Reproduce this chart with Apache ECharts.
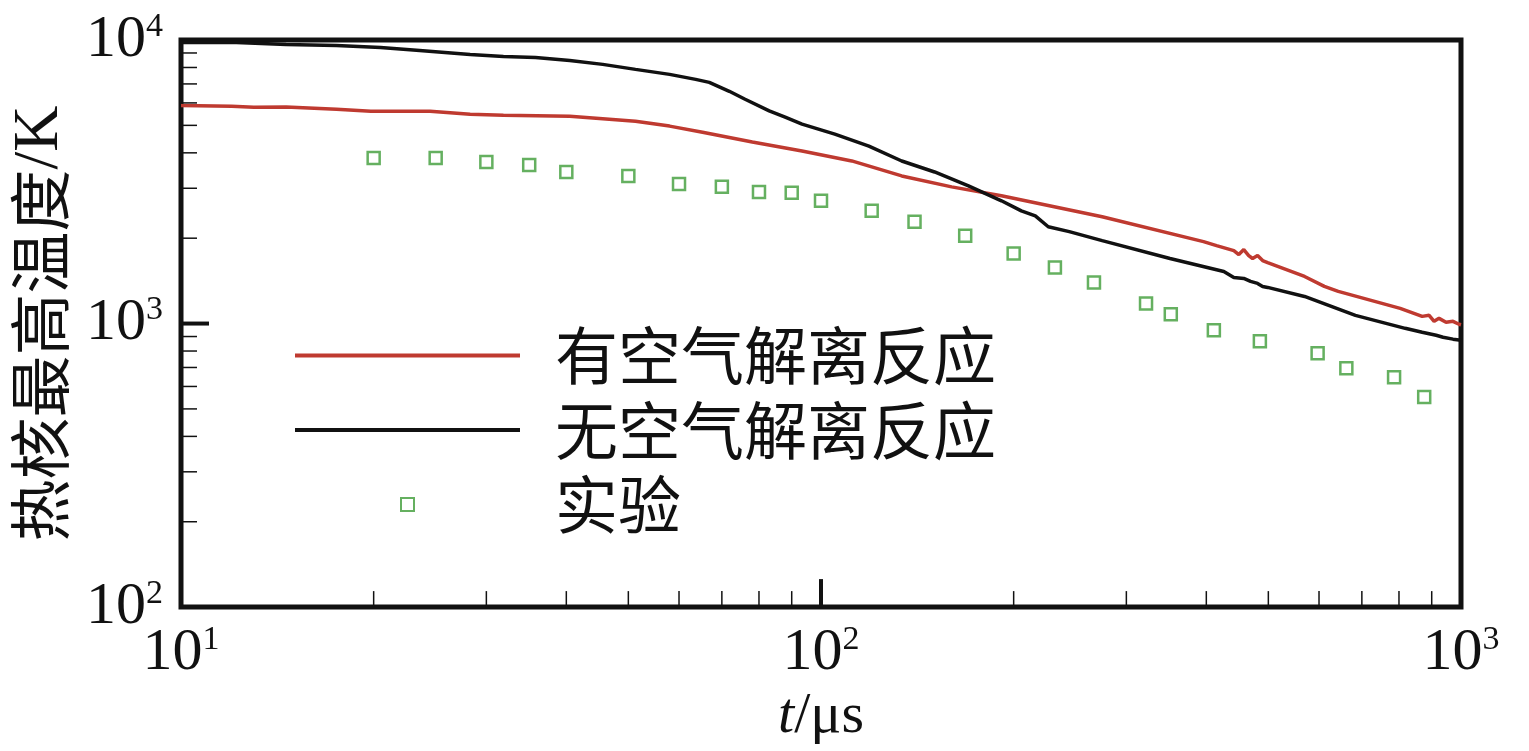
<!DOCTYPE html>
<html><head><meta charset="utf-8">
<script src="https://cdn.jsdelivr.net/npm/echarts@6/dist/echarts.min.js"></script>
<style>html,body{margin:0;padding:0;background:#fff}#c{width:1529px;height:751px}</style>
</head><body><div id="c"></div>
<script>
const seriesNames = ['有空气解离反应', '无空气解离反应', '实验'];
const withDissociation = [[10,5880],[12,5840],[13,5790],[14.6,5800],[17.5,5700],[19.8,5610],[22.2,5610],[24.5,5610],[28.3,5470],[31.9,5430],[40.5,5385],[51.3,5170],[58,4970],[65.3,4730],[78.1,4365],[93.4,4060],[111.7,3745],[133.7,3316],[160,3034],[191.4,2821],[275,2380],[396,1945],[415,1883],[441.6,1808],[449.6,1751],[457.7,1823],[465.9,1737],[472.5,1696],[481,1737],[489.8,1668],[498.7,1641],[569.6,1466],[611.6,1352],[643,1298],[803.5,1131],[869.6,1060],[891.7,1069],[907.8,1018],[924,1043],[947.6,1010],[971.6,1018],[992.8,994],[1000,990]];
const withoutDissociation = [[10,9800],[12.2,9800],[14.6,9643],[17.5,9565],[20.5,9412],[23.6,9186],[28.3,8893],[31.9,8751],[35.8,8681],[40.5,8472],[45.6,8204],[51.3,7877],[58,7565],[63.7,7265],[66.9,7090],[71.9,6594],[76.1,6181],[83,5623],[87.9,5341],[93.4,5048],[105.1,4656],[118.8,4227],[133.7,3744],[150.5,3424],[170,3058],[191.4,2710],[205.6,2498],[216.2,2399],[226.5,2195],[244.3,2109],[275,1960],[351,1696],[426,1526],[441.6,1454],[457.7,1442],[469,1408],[481,1385],[489.8,1352],[498.7,1341],[569.6,1246],[683.9,1069],[818,962],[869.6,932],[914.4,909],[937.5,895],[971.6,881],[1000,873]];
const experimentT = [20,25,30,35,40,50,60,70,80,90,100,120,140,168,200,232,267,322,352,411,485,597,662,786,876];
const experimentTemp = [3836,3836,3714,3624,3424,3316,3108,3034,2913,2890,2710,2498,2286,2041,1765,1576,1396,1178,1078,947,866,786,696,647,551];
const xTickValues = [10, 100, 1000];
const xTickExponents = ['1', '2', '3'];
const yTickValues = [100, 1000, 10000];
const yTickExponents = ['2', '3', '4'];
const xMinorTicks = [20,30,40,50,60,70,80,90,200,300,400,500,600,700,800,900];
const xMajorTicks = [100];
const yMinorTicks = [200,300,400,500,600,700,800,900,2000,3000,4000,5000,6000,7000,8000,9000];
const yMajorTicks = [1000];

const serif = 'Liberation Serif';
const cjk = 'Noto Sans CJK SC';
const redColor = '#bf3a30';
const blackColor = '#111';
const greenColor = '#3f9c38';
const labelRich = {
  b: {fontFamily: serif, fontSize: 60, lineHeight: 60, color: '#111'},
  s: {fontFamily: serif, fontSize: 34, lineHeight: 44, color: '#111', verticalAlign: 'top'}
};
function fmt(values, exps) {
  return function (v) {
    let i = values.findIndex(t => Math.abs(t - v) / t < 1e-6);
    if (i < 0) return '';
    return '{b|10}{s|' + exps[i] + '}';
  };
}

const tickData = [];
xMinorTicks.forEach(v => tickData.push([v, 100, 0, 0]));
xMajorTicks.forEach(v => tickData.push([v, 100, 0, 1]));
yMinorTicks.forEach(v => tickData.push([10, v, 1, 0]));
yMajorTicks.forEach(v => tickData.push([10, v, 1, 1]));

const lineIcon = 'path://M0,0H225V4H0Z';
const chart = echarts.init(document.getElementById('c'));
chart.setOption({
  animation: false,
  backgroundColor: '#fff',
  grid: {left: 177, top: 40, width: 1284, height: 570, show: true, borderColor: '#111', borderWidth: 5, backgroundColor: 'transparent'},
  xAxis: {
    type: 'log', logBase: 10, min: 10, max: 1000,
    axisLine: {show: false}, axisTick: {show: false}, splitLine: {show: false},
    axisLabel: {margin: 16, showMinLabel: true, showMaxLabel: true, hideOverlap: false, formatter: fmt(xTickValues, xTickExponents), rich: labelRich},
    name: '{i|t}{r|/μs}', nameLocation: 'middle', nameGap: 75,
    nameTextStyle: {rich: {i: {fontFamily: serif, fontStyle: 'italic', fontSize: 58, lineHeight: 60, color: '#111'}, r: {fontFamily: serif, fontSize: 58, lineHeight: 60, color: '#111'}}}
  },
  yAxis: {
    type: 'log', logBase: 10, min: 100, max: 10000,
    axisLine: {show: false}, axisTick: {show: false}, splitLine: {show: false},
    axisLabel: {margin: 18, showMinLabel: true, showMaxLabel: true, hideOverlap: false, formatter: fmt(yTickValues, yTickExponents), rich: labelRich},
    name: '{c|热核最高温度}{e|/K}', nameLocation: 'middle', nameGap: 110, nameRotate: 90,
    nameTextStyle: {rich: {c: {fontFamily: cjk, fontSize: 62, lineHeight: 62, color: '#111'}, e: {fontFamily: serif, fontSize: 64, lineHeight: 62, color: '#111'}}}
  },
  legend: {
    left: 295, top: 324, orient: 'vertical', padding: 0, itemGap: 11.5,
    itemWidth: 225, itemHeight: 13, selectedMode: false, symbolKeepAspect: true,
    data: [
      {name: seriesNames[0], icon: lineIcon, itemStyle: {color: redColor, borderWidth: 0}},
      {name: seriesNames[1], icon: lineIcon, itemStyle: {color: blackColor, borderWidth: 0}},
      {name: seriesNames[2], icon: 'path://M0,0H10V10H0Z'}
    ],
    textStyle: {fontFamily: cjk, fontSize: 63, lineHeight: 62, color: '#111', padding: [0, 0, 0, 30]}
  },
  series: [
    {name: seriesNames[0], type: 'line', data: withDissociation, symbol: 'none', lineStyle: {color: redColor, width: 3.5}, itemStyle: {color: redColor}, z: 3},
    {name: seriesNames[1], type: 'line', data: withoutDissociation, symbol: 'none', lineStyle: {color: blackColor, width: 3.5}, itemStyle: {color: blackColor}, z: 3},
    {name: seriesNames[2], type: 'scatter', data: experimentT.map((t, i) => [t, experimentTemp[i]]), symbol: 'rect', symbolSize: 12,
      itemStyle: {color: 'rgba(255,255,255,0)', borderColor: greenColor, borderWidth: 2.5}, z: 4},
    {type: 'custom', data: tickData, clip: false, silent: true, z: 5, encode: {x: 0, y: 1},
      renderItem: function (params, api) {
        const p = api.coord([api.value(0), api.value(1)]);
        const isY = api.value(2) === 1, major = api.value(3) === 1;
        const len = major ? 28 : 16;
        const shape = isY ? {x1: p[0], y1: p[1], x2: p[0] + len, y2: p[1]} : {x1: p[0], y1: p[1], x2: p[0], y2: p[1] - len};
        return {type: 'line', shape: shape, style: {stroke: '#111', lineWidth: major ? 4 : 1.5}};
      }}
  ]
});
</script></body></html>
